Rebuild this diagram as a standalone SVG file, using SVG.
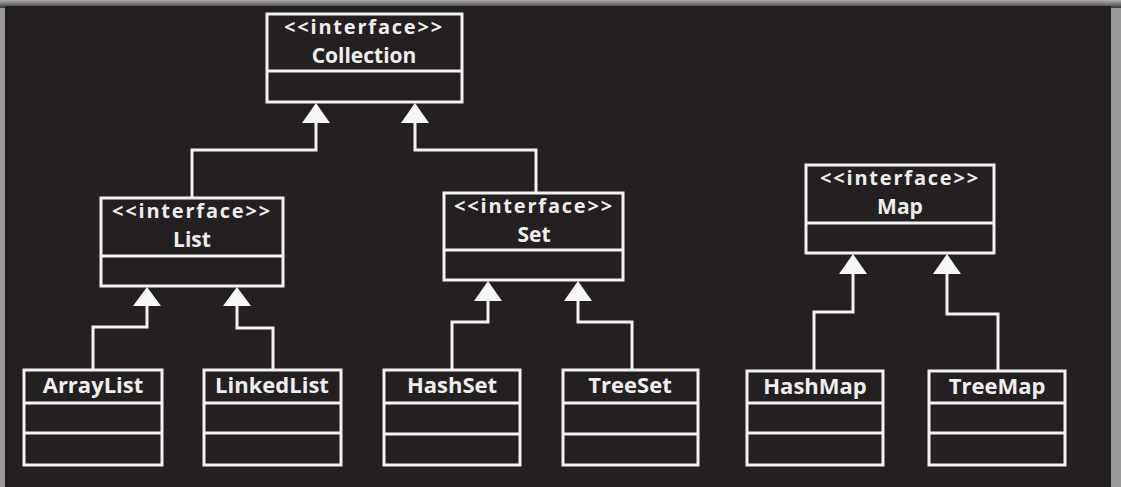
<svg xmlns="http://www.w3.org/2000/svg" width="1121" height="487" viewBox="0 0 1121 487">
<defs>
<style>
.box{fill:none;stroke:#f2f2f2;stroke-width:3}
.ln{fill:none;stroke:#f2f2f2;stroke-width:3}
.tri{fill:#f7f7f7;stroke:none}
.t{font-family:"Open Sans","Liberation Sans",sans-serif;font-weight:700;fill:#eeeeee;text-anchor:middle;font-size:22px}
.nm{font-size:21px}
.st{letter-spacing:1.8px;font-size:20px}
</style>
<linearGradient id="top" x1="0" y1="0" x2="0" y2="1"><stop offset="0" stop-color="#b0b0b0"/><stop offset="1" stop-color="#3a3637"/></linearGradient>
</defs>
<rect x="0" y="0" width="1121" height="487" fill="#9a9a9a"/>
<rect x="0" y="0" width="1121" height="8" fill="url(#top)"/>
<rect x="5" y="6" width="1106" height="481" fill="#242021"/>

<g id="connectors">
<path class="ln" d="M316 118 V150 H192 V198"/>
<path class="ln" d="M415 118 V150 H536 V193"/>
<path class="ln" d="M147 301 V327 H93 V370"/>
<path class="ln" d="M237 301 V328 H273 V370"/>
<path class="ln" d="M488 297 V322 H452 V370"/>
<path class="ln" d="M578 297 V322 H632 V370"/>
<path class="ln" d="M853 269 V312 H814 V371"/>
<path class="ln" d="M947 269 V314 H998 V371"/>
<polygon class="tri" points="316,103 302,123 330,123"/>
<polygon class="tri" points="415,103 401,123 429,123"/>
<polygon class="tri" points="147,287 133,306 161,306"/>
<polygon class="tri" points="237,287 223,306 251,306"/>
<polygon class="tri" points="488,281 474,301 502,301"/>
<polygon class="tri" points="578,281 564,301 592,301"/>
<polygon class="tri" points="853,254 839,274 867,274"/>
<polygon class="tri" points="947,254 933,274 961,274"/>
</g>

<g id="collection">
<rect class="box" x="267" y="14" width="195" height="88"/>
<line class="box" x1="267" y1="71" x2="462" y2="71"/>
<text class="t st" x="364" y="34">&lt;&lt;interface&gt;&gt;</text>
<text class="t nm" x="364" y="63">Collection</text>
</g>

<g id="list">
<rect class="box" x="101" y="198" width="182" height="88"/>
<line class="box" x1="101" y1="256" x2="283" y2="256"/>
<text class="t st" x="192" y="218">&lt;&lt;interface&gt;&gt;</text>
<text class="t nm" x="192" y="247">List</text>
</g>

<g id="set">
<rect class="box" x="444" y="193" width="179" height="87"/>
<line class="box" x1="444" y1="250" x2="623" y2="250"/>
<text class="t st" x="534" y="213">&lt;&lt;interface&gt;&gt;</text>
<text class="t nm" x="534" y="242">Set</text>
</g>

<g id="map">
<rect class="box" x="806" y="165" width="188" height="88"/>
<line class="box" x1="806" y1="223" x2="994" y2="223"/>
<text class="t st" x="900" y="185">&lt;&lt;interface&gt;&gt;</text>
<text class="t nm" x="900" y="214">Map</text>
</g>

<g id="arraylist">
<rect class="box" x="24" y="370" width="138" height="95"/>
<line class="box" x1="24" y1="403" x2="162" y2="403"/>
<line class="box" x1="24" y1="433" x2="162" y2="433"/>
<text class="t" x="93" y="393">ArrayList</text>
</g>

<g id="linkedlist">
<rect class="box" x="204" y="370" width="137" height="95"/>
<line class="box" x1="204" y1="403" x2="341" y2="403"/>
<line class="box" x1="204" y1="433" x2="341" y2="433"/>
<text class="t" x="272" y="393">LinkedList</text>
</g>

<g id="hashset">
<rect class="box" x="384" y="370" width="136" height="95"/>
<line class="box" x1="384" y1="403" x2="520" y2="403"/>
<line class="box" x1="384" y1="434" x2="520" y2="434"/>
<text class="t" x="452" y="393">HashSet</text>
</g>

<g id="treeset">
<rect class="box" x="563" y="370" width="135" height="95"/>
<line class="box" x1="563" y1="403" x2="698" y2="403"/>
<line class="box" x1="563" y1="434" x2="698" y2="434"/>
<text class="t" x="630" y="393">TreeSet</text>
</g>

<g id="hashmap">
<rect class="box" x="747" y="371" width="136" height="94"/>
<line class="box" x1="747" y1="403" x2="883" y2="403"/>
<line class="box" x1="747" y1="433" x2="883" y2="433"/>
<text class="t" x="815" y="394">HashMap</text>
</g>

<g id="treemap">
<rect class="box" x="929" y="371" width="136" height="94"/>
<line class="box" x1="929" y1="403" x2="1065" y2="403"/>
<line class="box" x1="929" y1="433" x2="1065" y2="433"/>
<text class="t" x="997" y="394">TreeMap</text>
</g>
</svg>
